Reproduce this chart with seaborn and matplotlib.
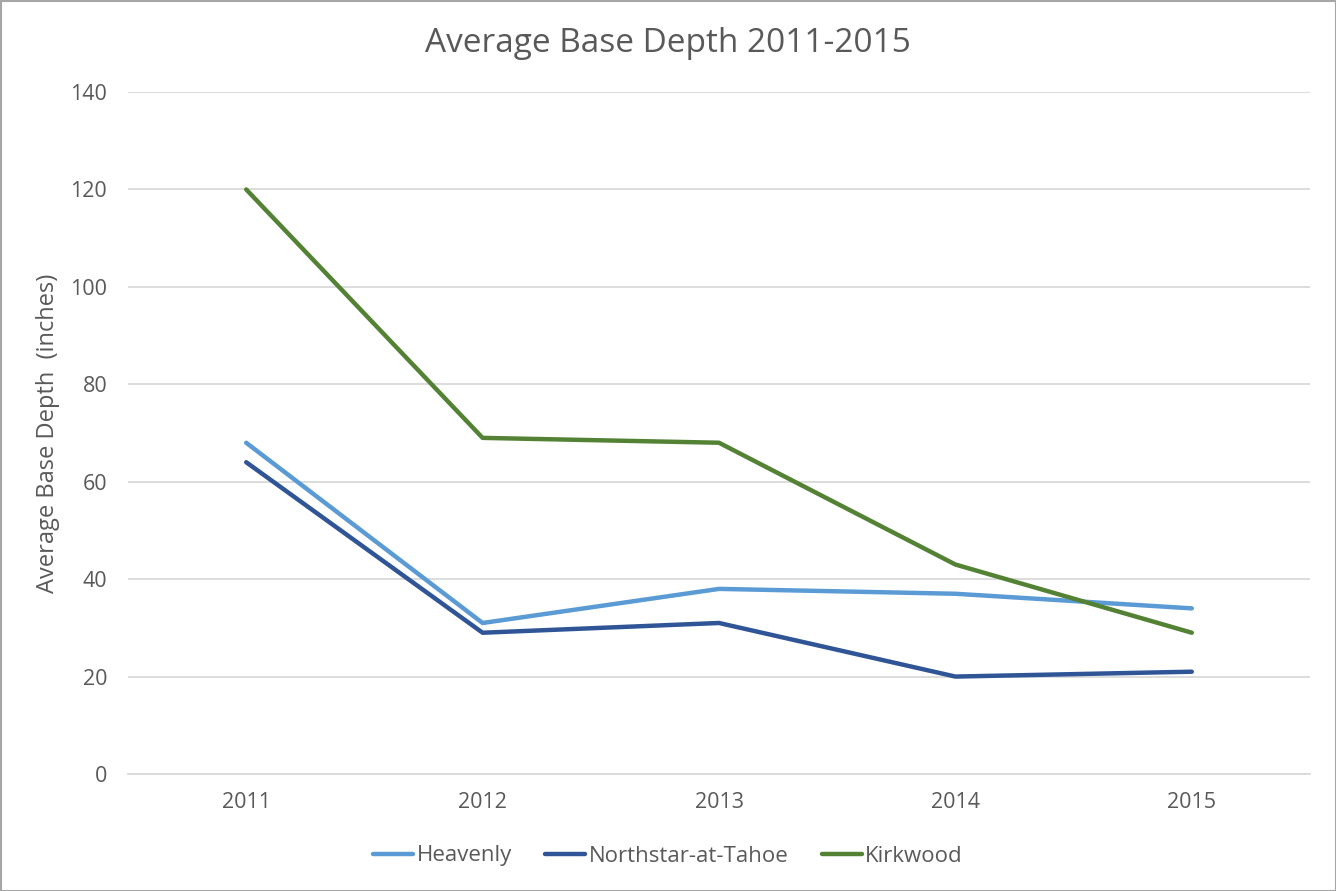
import matplotlib
matplotlib.use("Agg")
import matplotlib.pyplot as plt
import seaborn as sns
import pandas as pd
from matplotlib.patches import Rectangle
from matplotlib.lines import Line2D

years = ["2011", "2012", "2013", "2014", "2015"]
heavenly = [68, 31, 38, 37, 34]
northstar = [64, 29, 31, 20, 21]
kirkwood = [120, 69, 68, 43, 29]
series_names = ["Heavenly", "Northstar-at-Tahoe", "Kirkwood"]
colors = ["#5B9BD5", "#2F5597", "#548235"]
y_ticks = [0, 20, 40, 60, 80, 100, 120, 140]

rows = []
for name, vals in zip(series_names, [heavenly, northstar, kirkwood]):
    for i, (yr, v) in enumerate(zip(years, vals)):
        rows.append({"pos": i, "Year": yr, "Depth": v, "Resort": name})
df = pd.DataFrame(rows)

sns.set_theme(style="white")
plt.rcParams['font.family'] = ['Open Sans', 'DejaVu Sans']
text_color = "#595959"

fig = plt.figure(figsize=(13.36, 8.91), dpi=100)
ax = fig.add_axes([128/1336, 1-774/891, (1310-128)/1336, (774-92)/891])

sns.lineplot(data=df, x="pos", y="Depth", hue="Resort", hue_order=series_names,
             palette=colors, linewidth=3.2, ax=ax, legend=False,
             solid_capstyle="round")

ax.set_xlim(-0.5, 4.5)
ax.set_ylim(0, 140)
ax.set_yticks(y_ticks)
ax.set_xticks(range(len(years)))
ax.set_xticklabels(years)
ax.yaxis.grid(True, color="#D9D9D9", linewidth=1.3)
ax.set_axisbelow(True)
for s in ["top", "right", "left"]:
    ax.spines[s].set_visible(False)
ax.spines["bottom"].set_color("#D9D9D9")
ax.spines["bottom"].set_linewidth(1.3)
ax.tick_params(axis="both", length=0, labelsize=15.5, colors=text_color, pad=15)
ax.tick_params(axis="x", pad=13)
ax.set_xlabel("")
ax.set_ylabel("Average Base Depth  (inches)", fontsize=17, color=text_color, labelpad=7)

fig.text(0.5, 1-43/891, "Average Base Depth 2011-2015", ha="center", va="center",
         fontsize=24, color=text_color)

handles = [Line2D([0], [0], color=c, linewidth=3.2, solid_capstyle="round") for c in colors]
leg = fig.legend(handles, series_names, loc="center", bbox_to_anchor=(0.5, 1-856/891),
                 ncol=3, frameon=False, fontsize=16, handlelength=1.8, handletextpad=0.15,
                 columnspacing=1.5)
for t in leg.get_texts():
    t.set_color(text_color)

fig.patches.append(Rectangle((0.5/1336, 0.5/891), 1-1/1336, 1-1/891, transform=fig.transFigure,
                             fill=False, edgecolor="#A6A6A6", linewidth=1.5))

fig.savefig("out.png", dpi=100)
